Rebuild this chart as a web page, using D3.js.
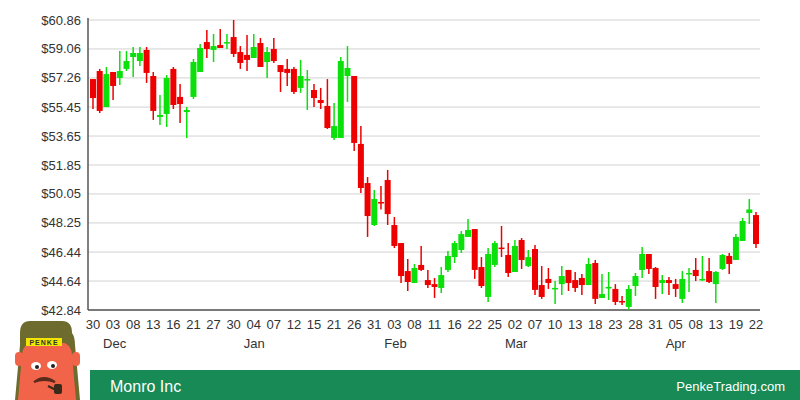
<!DOCTYPE html>
<html>
<head>
<meta charset="utf-8">
<script src="https://cdn.jsdelivr.net/npm/d3@7"></script>
<style>
  body { margin: 0; background: #fff; }
  text { font-family: "Liberation Sans", Arial, sans-serif; }
</style>
</head>
<body>
<svg id="chart" width="800" height="400"></svg>
<script>
// OHLC, one entry per trading day (30 Nov .. 22 Apr)
const open = [57.19,57.69,55.45,57.63,57.26,57.82,58.56,58.31,59.00,57.38,54.83,55.02,57.82,56.08,55.14,56.08,57.63,59.49,59.00,59.31,
  59.46,59.80,58.87,58.69,58.50,59.43,58.25,59.06,58.06,57.82,57.82,56.64,57.16,56.51,55.89,55.52,53.53,53.53,57.38,57.38,
  53.16,50.73,48.12,49.55,50.92,48.12,47.00,45.26,44.52,45.64,44.70,44.45,44.21,45.33,46.13,46.57,47.38,47.87,45.51,43.65,
  45.64,46.72,46.26,45.20,47.19,45.57,46.63,44.39,44.77,44.18,44.45,45.33,44.70,44.83,44.39,45.76,43.59,44.24,44.15,43.40,
  43.03,44.33,45.33,46.32,45.45,44.52,44.70,44.45,43.53,45.11,45.33,44.74,45.26,44.45,45.39,46.20,45.95,47.13,48.87,48.74]
const high = [57.19,57.82,57.94,57.63,58.93,58.93,59.18,59.18,59.18,57.63,56.20,57.44,57.94,56.88,55.45,58.44,59.37,60.24,59.99,60.30,
  59.99,60.86,59.24,59.93,59.99,59.74,59.18,59.74,58.06,58.44,57.94,58.38,57.75,56.88,56.64,57.19,55.70,58.56,59.24,57.38,
  54.27,51.10,50.30,50.55,51.54,48.62,47.00,46.01,45.70,46.82,45.33,44.83,45.51,46.51,47.13,47.75,48.49,47.87,46.13,46.69,
  47.13,48.06,47.00,47.19,47.31,46.57,46.88,45.57,45.45,44.64,45.57,45.33,45.20,45.08,46.07,45.95,45.08,45.20,44.45,43.71,
  44.39,45.14,46.75,46.32,45.51,45.01,44.89,44.77,45.26,45.45,46.07,46.20,46.07,45.26,46.32,46.38,47.56,48.56,49.74,48.93]
const low = [55.33,55.08,55.45,55.89,56.82,57.69,57.32,58.00,56.95,54.65,54.34,54.21,55.33,54.46,53.53,55.95,57.63,58.50,58.25,59.12,
  59.06,58.56,57.82,57.69,58.50,57.94,57.26,58.19,56.39,56.76,56.26,56.33,55.27,55.45,55.33,54.09,53.40,53.53,55.77,52.72,
  50.11,47.38,48.06,49.09,48.12,46.69,44.52,44.02,44.52,45.26,44.21,43.59,43.90,45.20,45.76,46.38,47.38,44.77,44.21,43.34,
  45.51,46.13,44.89,45.20,45.39,45.51,43.77,43.53,44.15,43.21,43.77,44.02,43.96,43.77,44.39,43.21,43.59,43.46,43.15,43.15,
  42.84,43.71,44.83,45.08,43.53,43.83,43.77,43.65,43.28,43.96,44.64,44.64,44.52,43.28,45.33,45.08,45.95,47.13,48.18,46.69]
const close = [56.01,55.21,57.50,56.76,57.69,58.31,58.81,58.81,57.57,55.21,54.96,57.26,55.58,55.64,55.27,58.25,59.12,59.06,59.24,59.12,
  59.49,58.75,58.19,58.38,59.18,57.94,58.87,58.31,57.63,57.57,56.39,57.38,57.19,56.01,55.70,54.15,54.27,58.31,57.88,53.22,
  50.42,48.68,49.74,49.52,48.80,46.82,44.95,44.58,45.45,45.33,44.39,44.27,45.01,46.20,47.00,47.56,47.81,45.33,44.33,46.32,
  47.00,46.69,45.14,46.82,45.95,46.13,44.09,43.65,44.52,44.21,44.95,44.52,44.21,44.39,45.70,43.53,43.83,44.27,43.34,43.37,
  44.15,44.95,46.32,45.39,44.27,44.70,44.52,44.15,44.77,45.14,44.95,44.77,44.58,45.20,46.26,45.70,47.38,48.37,49.09,46.94]

// day labels, one every third candle
const dayLabels = ["30","03","08","13","16","21","27","30","04","07","12","15","21","26","31","03","08","11",
  "16","22","25","02","07","10","13","18","23","28","31","05","08","13","19","22"]
const monthLabels = [["Dec",1],["Jan",8],["Feb",15],["Mar",21],["Apr",29]]
const priceTicks = [42.84,44.64,46.44,48.25,50.05,51.85,53.65,55.45,57.26,59.06,60.86]

const svg = d3.select("#chart")
const plotL = 88, plotR = 760, plotT = 20, plotB = 310

const x = d3.scaleLinear().domain([0, open.length - 1]).range([93, 756])
const y = d3.scaleLinear().domain([42.84, 60.86]).range([plotB, plotT])

// grid + price labels
svg.selectAll(".grid").data(priceTicks).enter().append("line")
  .attr("x1", plotL).attr("x2", plotR)
  .attr("y1", d => y(d)).attr("y2", d => y(d))
  .attr("stroke", "#d2d2d2").attr("stroke-width", 1)
svg.selectAll(".plab").data(priceTicks).enter().append("text")
  .attr("x", 81).attr("y", d => y(d) + 4.5)
  .attr("text-anchor", "end").attr("font-size", "13px").attr("fill", "#333")
  .text(d => "$" + d.toFixed(2))

// axes lines
svg.append("line").attr("x1", plotL).attr("x2", plotL).attr("y1", plotT - 2).attr("y2", plotB)
  .attr("stroke", "#555").attr("stroke-width", 1.5)
svg.append("line").attr("x1", plotL).attr("x2", plotR).attr("y1", plotB).attr("y2", plotB)
  .attr("stroke", "#555").attr("stroke-width", 1.5)

// candles
const idx = d3.range(open.length)
const col = i => close[i] >= open[i] ? "#0be00b" : "#ee0000"
const g = svg.append("g")
g.selectAll(".wick").data(idx).enter().append("line")
  .attr("x1", i => x(i)).attr("x2", i => x(i))
  .attr("y1", i => y(high[i])).attr("y2", i => y(low[i]))
  .attr("stroke", col).attr("stroke-width", 1.5)
g.selectAll(".body").data(idx).enter().append("rect")
  .attr("x", i => x(i) - 3)
  .attr("width", 6)
  .attr("y", i => y(Math.max(open[i], close[i])))
  .attr("height", i => Math.max(1.5, Math.abs(y(open[i]) - y(close[i]))))
  .attr("fill", col)

// x labels
svg.selectAll(".dlab").data(dayLabels).enter().append("text")
  .attr("x", (d, i) => x(i * 3)).attr("y", 329)
  .attr("text-anchor", "middle").attr("font-size", "13px").attr("fill", "#333")
  .text(d => d)
svg.selectAll(".mlab").data(monthLabels).enter().append("text")
  .attr("x", d => x(d[1] * 3) - 10).attr("y", 348)
  .attr("font-size", "13px").attr("fill", "#333")
  .text(d => d[0])

// footer
svg.append("rect").attr("x", 90).attr("y", 370).attr("width", 710).attr("height", 30).attr("fill", "#178a55")
svg.append("text").attr("x", 110).attr("y", 392).attr("font-size", "16px").attr("fill", "#fff").text("Monro Inc")
svg.append("text").attr("x", 785).attr("y", 391).attr("text-anchor", "end").attr("font-size", "13px").attr("fill", "#fff").text("PenkeTrading.com")

// mascot
const m = svg.append("g")
m.append("path").attr("d", "M20,345 Q20,330 30,330 L65,330 Q75,330 75,345 L80,400 L15,400 Z").attr("fill", "#6e6b2e")
m.append("path").attr("d", "M22,355 Q22,340 48,340 Q72,340 72,355 L76,400 L18,400 Z").attr("fill", "#f2644a")
m.append("rect").attr("x", 15).attr("y", 352).attr("width", 8).attr("height", 14).attr("rx", 4).attr("fill", "#f2644a")
m.append("rect").attr("x", 72).attr("y", 352).attr("width", 8).attr("height", 14).attr("rx", 4).attr("fill", "#f2644a")
m.append("path").attr("d", "M20,333 Q20,321 30,321 L62,321 Q72,321 72,333 L72,343 L20,343 Z").attr("fill", "#6e6b2e")
m.append("rect").attr("x", 26).attr("y", 338).attr("width", 36).attr("height", 8).attr("fill", "#f2e600")
m.append("text").attr("x", 44).attr("y", 345).attr("text-anchor", "middle").attr("font-size", "7px")
  .attr("font-weight", "bold").attr("letter-spacing", "1px").attr("fill", "#333").text("PENKE")
m.append("ellipse").attr("cx", 36).attr("cy", 366).attr("rx", 5).attr("ry", 4).attr("fill", "#fff")
m.append("ellipse").attr("cx", 52).attr("cy", 365).attr("rx", 5).attr("ry", 4).attr("fill", "#fff")
m.append("circle").attr("cx", 37).attr("cy", 367).attr("r", 2).attr("fill", "#222")
m.append("circle").attr("cx", 53).attr("cy", 366).attr("r", 2).attr("fill", "#222")
m.append("path").attr("d", "M34,382 Q44,374 55,382 Q44,378 34,382 Z").attr("fill", "#5a2a1a").attr("stroke", "#5a2a1a").attr("stroke-width", 2)
m.append("path").attr("d", "M48,386 L56,390").attr("stroke", "#3a2a1a").attr("stroke-width", 2)
m.append("rect").attr("x", 54).attr("y", 384).attr("width", 8).attr("height", 10).attr("rx", 2).attr("fill", "#3a2a1a")
</script>
</body>
</html>
